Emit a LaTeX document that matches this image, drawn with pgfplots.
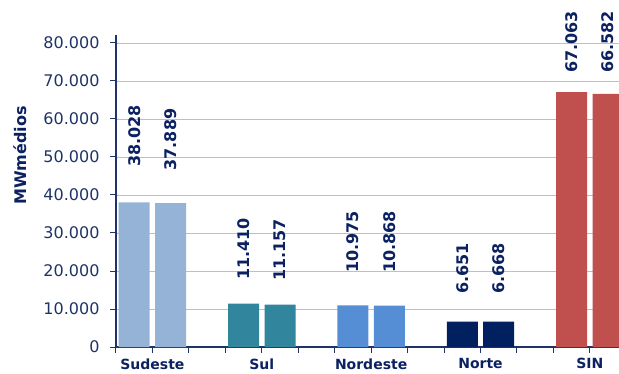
\documentclass[border=0pt]{standalone}
\usepackage{pgfplots}
\pgfplotsset{compat=1.18}
\usepackage{pgfplotstable}
\usepackage{fontspec}
\setmainfont{DejaVu Sans}
\definecolor{navy}{HTML}{0B2161}
\definecolor{ticknavy}{HTML}{1F3366}
\definecolor{csud}{HTML}{95B3D7}
\definecolor{csul}{HTML}{31859C}
\definecolor{cne}{HTML}{558ED5}
\definecolor{cno}{HTML}{002060}
\definecolor{csin}{HTML}{C0504D}
\pgfplotstableread{
x y
0.5 38028
1.5 37889
}\sudeste
\pgfplotstableread{
x y
3.5 11410
4.5 11157
}\sul
\pgfplotstableread{
x y
6.5 10975
7.5 10868
}\nordeste
\pgfplotstableread{
x y
9.5 6651
10.5 6668
}\norte
\pgfplotstableread{
x y
12.5 67063
13.5 66582
}\sin
\pgfplotstableread{
x y label
0.5 47400 38.028
1.5 46400 37.889
3.5 17600 11.410
4.5 17400 11.157
6.5 19500 10.975
7.5 19500 10.868
9.5 13900 6.651
10.5 13900 6.668
12.5 72100 67.063
13.5 72100 66.582
}\labels
\begin{document}
\begin{tikzpicture}
\useasboundingbox (-116bp,-27bp) rectangle (503bp,347bp);
\begin{axis}[
  at={(0,0)}, anchor=south west,
  scale only axis, width=503bp, height=311.6bp,
  xmin=0, xmax=13.8, ymin=0, ymax=82000,
  clip=false,
  axis x line*=bottom, axis y line*=left,
  axis line style={draw=ticknavy, line width=1.1bp},
  tick align=outside, major tick length=6bp,
  tick style={draw=ticknavy, line width=1bp},
  xtick={0,...,13},
  xticklabels={{},Sudeste,{},{},Sul,{},{},Nordeste,{},{},Norte,{},{},SIN,{}},
  xticklabel style={font=\fontsize{14bp}{16bp}\selectfont\bfseries, text=navy, yshift=-2bp},
  ytick={0,10000,...,80000},
  scaled y ticks=false,
  yticklabel style={font=\fontsize{16bp}{19bp}\selectfont, text=ticknavy, xshift=-7bp},
  /pgf/number format/.cd, 1000 sep={.}, assume math mode=true,
  /pgfplots/.cd,
  ymajorgrids,
  major grid style={draw=gray!50, line width=0.8bp},
  ylabel={MWmédios},
  ylabel style={at={(axis description cs:-0.191,0.615)}, anchor=center, font=\fontsize{16bp}{19bp}\selectfont\bfseries, text=navy},
]
\addplot[ybar, bar shift=0pt, bar width=0.85, fill=csud, draw=none] table[x=x,y=y] {\sudeste};
\addplot[ybar, bar shift=0pt, bar width=0.85, fill=csul, draw=none] table[x=x,y=y] {\sul};
\addplot[ybar, bar shift=0pt, bar width=0.85, fill=cne, draw=none] table[x=x,y=y] {\nordeste};
\addplot[ybar, bar shift=0pt, bar width=0.85, fill=cno, draw=none] table[x=x,y=y] {\norte};
\addplot[ybar, bar shift=0pt, bar width=0.85, fill=csin, draw=none] table[x=x,y=y] {\sin};
\addplot[draw=none, mark=none, nodes near coords, point meta=explicit symbolic,
  every node near coord/.style={rotate=90, anchor=west, inner sep=0pt, font=\fontsize{16bp}{19bp}\selectfont\bfseries, text=navy}]
  table[x=x,y=y,meta=label] {\labels};
\end{axis}
\end{tikzpicture}
\end{document}
